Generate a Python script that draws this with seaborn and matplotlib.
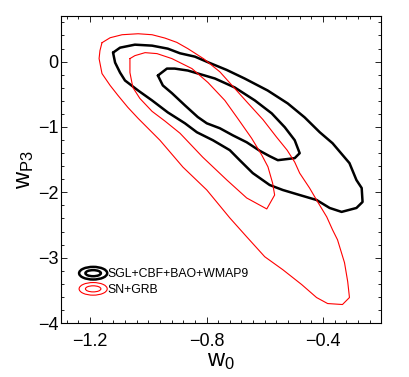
import numpy as np
import matplotlib
matplotlib.use("Agg")
import matplotlib.pyplot as plt
import seaborn as sns
from matplotlib.lines import Line2D
from matplotlib.patches import Ellipse
from matplotlib.legend_handler import HandlerBase
from matplotlib.ticker import MultipleLocator

# contour vertices (w0, wP3)
sgl_outer_w0 = [-1.121, -1.097, -1.046, -0.987, -0.933, -0.891, -0.840, -0.795, -0.731, -0.669,
                -0.590, -0.521, -0.463, -0.411, -0.367, -0.309, -0.285, -0.267, -0.264, -0.285,
                -0.336, -0.377, -0.422, -0.480, -0.538, -0.583, -0.641, -0.686, -0.720, -0.778,
                -0.833, -0.874, -0.933, -0.987, -1.035, -1.080, -1.097, -1.114]
sgl_outer_wp3 = [0.137, 0.213, 0.259, 0.244, 0.198, 0.127, 0.076, -0.010, -0.127, -0.259,
                 -0.442, -0.640, -0.853, -1.081, -1.249, -1.553, -1.812, -1.934, -2.147, -2.239,
                 -2.299, -2.239, -2.117, -2.041, -1.964, -1.888, -1.706, -1.508, -1.355, -1.203,
                 -1.081, -0.944, -0.777, -0.594, -0.442, -0.289, -0.168, -0.015]

sgl_inner_w0 = [-0.967, -0.936, -0.909, -0.864, -0.806, -0.771, -0.703, -0.634, -0.576, -0.531,
                -0.497, -0.480, -0.497, -0.555, -0.583, -0.617, -0.662, -0.710, -0.754, -0.799,
                -0.830, -0.874, -0.919, -0.950]
sgl_inner_wp3 = [-0.213, -0.107, -0.107, -0.137, -0.213, -0.259, -0.396, -0.594, -0.792, -1.005,
                 -1.203, -1.401, -1.477, -1.508, -1.447, -1.365, -1.234, -1.127, -1.020, -0.944,
                 -0.848, -0.670, -0.482, -0.365]

sn_outer_w0 = [-1.159, -1.131, -1.090, -1.035, -0.987, -0.943, -0.902, -0.864, -0.809, -0.754,
               -0.709, -0.661, -0.606, -0.560, -0.523, -0.497, -0.480, -0.446, -0.418, -0.387,
               -0.367, -0.350, -0.326, -0.315, -0.309, -0.333, -0.384, -0.422, -0.473, -0.538,
               -0.600, -0.662, -0.720, -0.799, -0.881, -0.960, -1.035, -1.070, -1.104, -1.131,
               -1.159, -1.169, -1.166]
sn_outer_wp3 = [0.289, 0.365, 0.411, 0.426, 0.411, 0.360, 0.294, 0.198, 0.041, -0.157,
                -0.381, -0.619, -0.888, -1.152, -1.355, -1.538, -1.706, -1.934, -2.147, -2.376,
                -2.574, -2.726, -3.076, -3.366, -3.609, -3.716, -3.701, -3.609, -3.411, -3.183,
                -2.985, -2.680, -2.391, -1.964, -1.614, -1.203, -0.868, -0.701, -0.518, -0.365,
                -0.183, 0.046, 0.168]

sn_inner_w0 = [-1.063, -1.046, -1.011, -0.970, -0.919, -0.850, -0.795, -0.737, -0.693, -0.645,
               -0.610, -0.589, -0.573, -0.566, -0.593, -0.662, -0.730, -0.813, -0.891, -0.943,
               -0.987, -1.029, -1.053, -1.063]
sn_inner_wp3 = [0.046, 0.091, 0.137, 0.122, 0.046, -0.107, -0.320, -0.594, -0.868, -1.173,
                -1.431, -1.609, -1.858, -2.041, -2.254, -2.086, -1.812, -1.462, -1.096, -0.909,
                -0.761, -0.563, -0.396, -0.168]

labels = ["SGL+CBF+BAO+WMAP9", "SN+GRB"]
colors = ["black", "#ff0000"]
widths = [1.8, 0.8]


class HandlerRings(HandlerBase):
    # two nested ellipses, like the contour pairs
    def create_artists(self, legend, orig_handle, xdescent, ydescent,
                       width, height, fontsize, trans):
        c = orig_handle.get_color()
        lw = orig_handle.get_linewidth()
        cx, cy = width / 2 - xdescent, height / 2 - ydescent
        outer = Ellipse((cx, cy), width, height * 1.35, fill=False, ec=c, lw=lw, transform=trans)
        inner = Ellipse((cx, cy), width * 0.55, height * 0.65, fill=False, ec=c, lw=lw, transform=trans)
        return [outer, inner]


def closed(a):
    return np.append(a, a[0])


sns.set_style("ticks")
plt.rcParams["font.family"] = ["Liberation Sans", "DejaVu Sans"]
plt.rcParams["mathtext.fontset"] = "custom"
plt.rcParams["mathtext.rm"] = "Liberation Sans"
for key in ["text.color", "axes.labelcolor", "xtick.color", "ytick.color", "axes.edgecolor"]:
    plt.rcParams[key] = "black"

fig = plt.figure(figsize=(4.09, 3.77), dpi=100)
ax = fig.add_axes([0.149, 0.143, 0.783, 0.815])

contours = [
    (sgl_outer_w0, sgl_outer_wp3, 0),
    (sgl_inner_w0, sgl_inner_wp3, 0),
    (sn_outer_w0, sn_outer_wp3, 1),
    (sn_inner_w0, sn_inner_wp3, 1),
]
for xs, ys, k in contours:
    sns.lineplot(x=closed(xs), y=closed(ys), sort=False, estimator=None,
                 color=colors[k], lw=widths[k], ax=ax)

ax.set_xlim(-1.3, -0.2)
ax.set_ylim(-4, 0.7)
ax.set_xticks([-1.2, -0.8, -0.4])
ax.set_yticks([-4, -3, -2, -1, 0])
ax.xaxis.set_minor_locator(MultipleLocator(0.04))
ax.yaxis.set_minor_locator(MultipleLocator(0.2))
ax.tick_params(which="both", direction="in", top=True, right=True, width=0.6)
ax.tick_params(which="major", length=4, labelsize=13)
ax.tick_params(axis="x", which="major", pad=7)
ax.tick_params(axis="y", which="major", pad=2)
ax.tick_params(which="minor", length=2)
for s in ax.spines.values():
    s.set_linewidth(0.8)

ax.set_xlabel(r"$\mathrm{w_0}$", fontsize=17, labelpad=0)
ax.set_ylabel(r"$\mathrm{w_{P3}}$", fontsize=17, labelpad=1)

handles = [Line2D([], [], color=colors[i], lw=widths[i]) for i in range(2)]
ax.legend(handles, labels, handler_map={Line2D: HandlerRings()}, loc="lower left",
          bbox_to_anchor=(0.03, 0.06), frameon=False, fontsize=8.8,
          handlelength=2.3, handleheight=0.8, handletextpad=0.05,
          labelspacing=0.3, borderpad=0.2)

fig.savefig("out.png", dpi=100)
